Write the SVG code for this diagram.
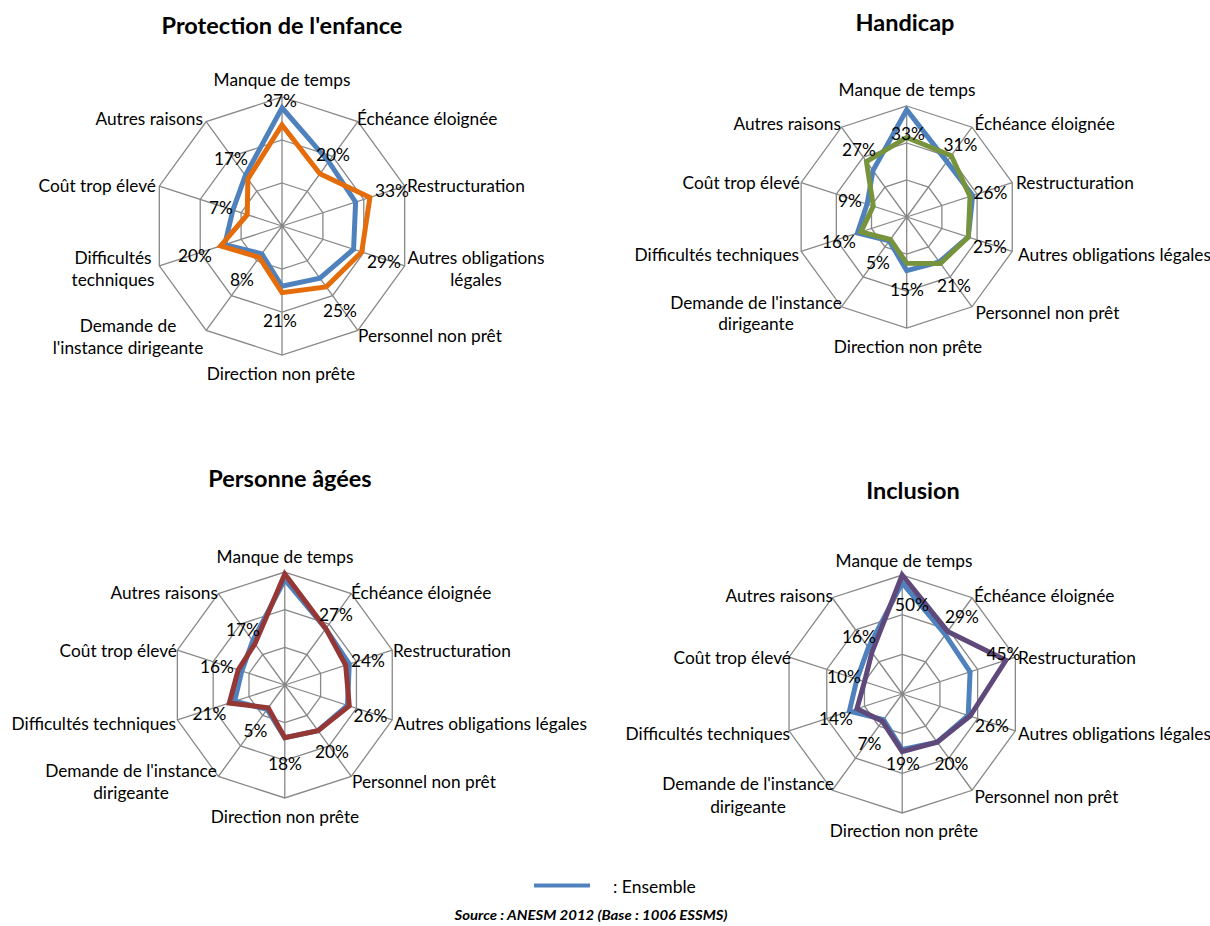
<svg xmlns="http://www.w3.org/2000/svg" xmlns:xlink="http://www.w3.org/1999/xlink" width="1210" height="926" viewBox="0 0 1210 926">
<style>
text{font-family:Lato,"Liberation Sans",sans-serif;fill:#000;dominant-baseline:central}
.cat{font-size:17.3px}
.pct{font-size:17.3px;text-anchor:middle}
.m{text-anchor:middle}
.e{text-anchor:end}
.title{font-size:23.5px;font-weight:bold;text-anchor:middle}
.grid{fill:none;stroke:#888888;stroke-width:1.3;vector-effect:non-scaling-stroke}
.ser{fill:none;stroke-width:5;stroke-linejoin:miter;stroke-miterlimit:10;vector-effect:non-scaling-stroke}
.ens{stroke:#4F81BD}
</style>
<defs>
<g id="grid">
<polygon class="grid" points="0,-60 35.27,-48.54 57.06,-18.54 57.06,18.54 35.27,48.54 0,60 -35.27,48.54 -57.06,18.54 -57.06,-18.54 -35.27,-48.54"/>
<polygon class="grid" points="0,-40 23.51,-32.36 38.04,-12.36 38.04,12.36 23.51,32.36 0,40 -23.51,32.36 -38.04,12.36 -38.04,-12.36 -23.51,-32.36"/>
<polygon class="grid" points="0,-20 11.76,-16.18 19.02,-6.18 19.02,6.18 11.76,16.18 0,20 -11.76,16.18 -19.02,6.18 -19.02,-6.18 -11.76,-16.18"/>
<path class="grid" d="M0,0L0,-60M0,0L35.27,-48.54M0,0L57.06,-18.54M0,0L57.06,18.54M0,0L35.27,48.54M0,0L0,60M0,0L-35.27,48.54M0,0L-57.06,18.54M0,0L-57.06,-18.54M0,0L-35.27,-48.54"/>
</g>
<polygon id="ensemble" class="ser ens" points="0,-56 21.75,-29.93 34.24,-11.12 33.29,10.82 17.63,24.27 0,28 -9.40,12.94 -26.63,8.65 -22.83,-7.42 -17.05,-23.46"/>
</defs>

<g id="chart-protection">
<text class="title" x="282" y="25">Protection de l'enfance</text>
<g transform="translate(282,226) scale(2.15)">
<use xlink:href="#grid"/>
<polygon class="ser ens" points="0,-55 21.75,-29.93 34.24,-11.12 33.29,10.82 17.63,24.27 0,28 -9.40,12.94 -26.63,8.65 -22.83,-7.42 -17.05,-23.46"/>
<polygon class="ser" stroke="#E46C0A" points="0,-47 17.63,-24.27 40.90,-13.29 37.09,12.05 20.57,28.32 0,31 -10.58,14.56 -28.53,9.27 -16.17,-5.25 -15.87,-21.84"/>
</g>
<text class="cat m" x="282" y="79">Manque de temps</text>
<text class="cat" x="357" y="118">Échéance éloignée</text>
<text class="cat" x="407" y="185">Restructuration</text>
<text class="cat m" x="476" y="257">Autres obligations</text>
<text class="cat m" x="476" y="279">légales</text>
<text class="cat" x="358" y="335">Personnel non prêt</text>
<text class="cat m" x="281" y="373">Direction non prête</text>
<text class="cat m" x="128" y="325">Demande de</text>
<text class="cat m" x="128" y="347">l'instance dirigeante</text>
<text class="cat m" x="113" y="257">Difficultés</text>
<text class="cat m" x="113" y="279">techniques</text>
<text class="cat e" x="156" y="185">Coût trop élevé</text>
<text class="cat e" x="203" y="118">Autres raisons</text>
<text class="pct" x="280" y="100">37%</text>
<text class="pct" x="333" y="154">20%</text>
<text class="pct" x="392" y="190">33%</text>
<text class="pct" x="384" y="261">29%</text>
<text class="pct" x="340" y="310">25%</text>
<text class="pct" x="280" y="320">21%</text>
<text class="pct" x="242" y="279">8%</text>
<text class="pct" x="195" y="255">20%</text>
<text class="pct" x="221" y="207">7%</text>
<text class="pct" x="231" y="158">17%</text>
</g>

<g id="chart-handicap">
<text class="title" x="905" y="22">Handicap</text>
<g transform="translate(906.7,217) scale(1.85)">
<use xlink:href="#grid"/>
<polygon class="ser ens" points="0,-58 21.75,-29.93 35.66,-11.59 33.29,10.82 17.63,24.27 0,29 -9.40,12.94 -26.63,8.65 -21.40,-6.95 -18.22,-25.08"/>
<polygon class="ser" stroke="#77933C" points="0,-43 24.10,-33.17 34.24,-11.12 33.29,10.82 18.22,25.08 0,25 -8.82,12.14 -24.73,8.03 -18.07,-5.87 -21.75,-29.93"/>
</g>
<text class="cat m" x="907" y="89">Manque de temps</text>
<text class="cat" x="974.5" y="123">Échéance éloignée</text>
<text class="cat" x="1016" y="182">Restructuration</text>
<text class="cat" x="1018" y="254">Autres obligations légales</text>
<text class="cat" x="975.5" y="312">Personnel non prêt</text>
<text class="cat m" x="908" y="346">Direction non prête</text>
<text class="cat m" x="756" y="302">Demande de l'instance</text>
<text class="cat m" x="756" y="323">dirigeante</text>
<text class="cat e" x="799" y="254">Difficultés techniques</text>
<text class="cat e" x="800" y="182">Coût trop élevé</text>
<text class="cat e" x="841" y="123">Autres raisons</text>
<text class="pct" x="908" y="133">33%</text>
<text class="pct" x="960.5" y="144">31%</text>
<text class="pct" x="990.5" y="192">26%</text>
<text class="pct" x="990" y="246.5">25%</text>
<text class="pct" x="954" y="285.5">21%</text>
<text class="pct" x="907" y="289">15%</text>
<text class="pct" x="878" y="262">5%</text>
<text class="pct" x="839" y="241.5">16%</text>
<text class="pct" x="850" y="200">9%</text>
<text class="pct" x="859" y="149">27%</text>
</g>

<g id="chart-personnes-agees">
<text class="title" x="290" y="478">Personne âgées</text>
<g transform="translate(284.8,685) scale(1.883)">
<use xlink:href="#grid"/>
<use xlink:href="#ensemble"/>
<polygon class="ser" stroke="#953735" points="0,-59 21.75,-29.93 32.34,-10.51 34.24,11.12 17.63,24.27 0,28 -8.82,12.14 -29.48,9.58 -24.73,-8.03 -15.87,-21.84"/>
</g>
<text class="cat m" x="285" y="556">Manque de temps</text>
<text class="cat" x="351" y="592">Échéance éloignée</text>
<text class="cat" x="393" y="650">Restructuration</text>
<text class="cat" x="394" y="723">Autres obligations légales</text>
<text class="cat" x="352" y="781">Personnel non prêt</text>
<text class="cat m" x="285" y="816">Direction non prête</text>
<text class="cat m" x="131" y="770">Demande de l'instance</text>
<text class="cat m" x="131" y="792">dirigeante</text>
<text class="cat e" x="176" y="723">Difficultés techniques</text>
<text class="cat e" x="177" y="650">Coût trop élevé</text>
<text class="cat e" x="218" y="592">Autres raisons</text>
<text class="pct" x="336" y="614">27%</text>
<text class="pct" x="368" y="660.5">24%</text>
<text class="pct" x="370.5" y="715">26%</text>
<text class="pct" x="332" y="751.5">20%</text>
<text class="pct" x="285" y="763">18%</text>
<text class="pct" x="255.5" y="730">5%</text>
<text class="pct" x="209.5" y="713">21%</text>
<text class="pct" x="217" y="666">16%</text>
<text class="pct" x="243" y="629">17%</text>
</g>

<g id="chart-inclusion">
<text class="title" x="913" y="490">Inclusion</text>
<g transform="translate(902.2,694) scale(1.983)">
<use xlink:href="#grid"/>
<use xlink:href="#ensemble"/>
<polygon class="ser" stroke="#5F497A" points="0,-60 22.92,-31.55 52.31,-17.0 34.24,11.12 17.63,24.27 0,29 -9.99,13.75 -22.83,7.42 -19.02,-6.18 -15.28,-21.03"/>
</g>
<text class="cat m" x="904" y="560">Manque de temps</text>
<text class="cat" x="974" y="595">Échéance éloignée</text>
<text class="cat" x="1018" y="657">Restructuration</text>
<text class="cat" x="1018" y="733">Autres obligations légales</text>
<text class="cat" x="974.5" y="796">Personnel non prêt</text>
<text class="cat m" x="904" y="830">Direction non prête</text>
<text class="cat m" x="748" y="783">Demande de l'instance</text>
<text class="cat m" x="748" y="806">dirigeante</text>
<text class="cat e" x="790" y="733">Difficultés techniques</text>
<text class="cat e" x="791" y="657">Coût trop élevé</text>
<text class="cat e" x="833" y="595">Autres raisons</text>
<text class="pct" x="912" y="604">50%</text>
<text class="pct" x="962" y="616">29%</text>
<text class="pct" x="1003.5" y="653">45%</text>
<text class="pct" x="992" y="725">26%</text>
<text class="pct" x="951.5" y="763">20%</text>
<text class="pct" x="903" y="763">19%</text>
<text class="pct" x="869.5" y="743">7%</text>
<text class="pct" x="836" y="718">14%</text>
<text class="pct" x="844" y="676">10%</text>
<text class="pct" x="859" y="636">16%</text>
</g>

<g id="legend">
<line x1="534" y1="885.5" x2="590" y2="885.5" stroke="#4F81BD" stroke-width="4"/>
<text class="cat" x="613" y="886" style="font-size:17.5px">: Ensemble</text>
<text x="591" y="915" style="font-size:13px;font-weight:bold;font-style:italic;text-anchor:middle" textLength="273" lengthAdjust="spacingAndGlyphs">Source : ANESM 2012 (Base : 1006 ESSMS)</text>
</g>
</svg>
